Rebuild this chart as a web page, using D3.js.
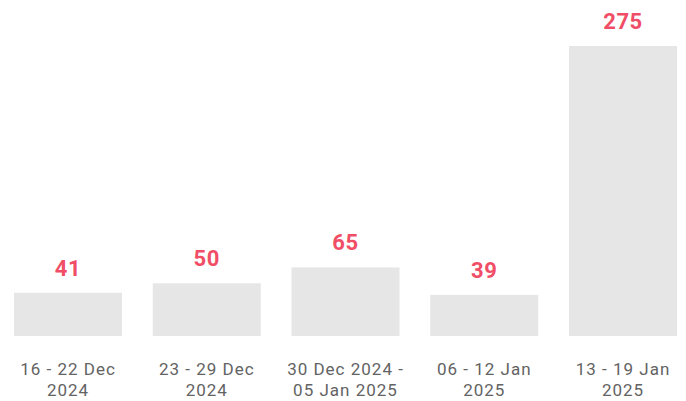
<!DOCTYPE html>
<html>
<head>
<meta charset="utf-8">
<script src="https://cdn.jsdelivr.net/npm/d3@7"></script>
<style>
  body { margin: 0; background: #fff; }
  svg { display: block; }
</style>
</head>
<body>
<div id="chart"></div>
<script>
// weekly counts
const weeks = ["16 - 22 Dec 2024", "23 - 29 Dec 2024", "30 Dec 2024 - 05 Jan 2025", "06 - 12 Jan 2025", "13 - 19 Jan 2025"];
const weekLines = [["16 - 22 Dec", "2024"], ["23 - 29 Dec", "2024"], ["30 Dec 2024 -", "05 Jan 2025"], ["06 - 12 Jan", "2025"], ["13 - 19 Jan", "2025"]];
const counts = [41, 50, 65, 39, 275];

const width = 686, height = 401;
const svg = d3.select("#chart").append("svg")
  .attr("width", width)
  .attr("height", height);

const x = d3.scaleBand()
  .domain(weeks)
  .range([14, 677])
  .paddingInner(0.2216)
  .paddingOuter(0);

const y = d3.scaleLinear()
  .domain([0, 275])
  .range([336, 46]);

const data = weeks.map((w, i) => ({week: w, value: counts[i], lines: weekLines[i]}));

svg.selectAll("rect.bar")
  .data(data)
  .join("rect")
  .attr("class", "bar")
  .attr("x", d => x(d.week))
  .attr("y", d => y(d.value))
  .attr("width", x.bandwidth())
  .attr("height", d => y(0) - y(d.value))
  .attr("fill", "#e6e6e6");

svg.selectAll("text.val")
  .data(data)
  .join("text")
  .attr("class", "val")
  .attr("x", d => x(d.week) + x.bandwidth() / 2)
  .attr("y", d => y(d.value) - 17)
  .attr("text-anchor", "middle")
  .style("font-family", "Roboto, sans-serif")
  .style("font-weight", "bold")
  .style("font-size", "22px")
  .style("letter-spacing", "0.6px")
  .attr("fill", "#f04e67")
  .text(d => d.value);

// x labels, two lines each
const lab = svg.selectAll("text.cat")
  .data(data)
  .join("text")
  .attr("class", "cat")
  .attr("text-anchor", "middle")
  .style("font-family", "Roboto, sans-serif")
  .style("font-size", "17px")
  .style("letter-spacing", "1px")
  .attr("fill", "#636363");

lab.selectAll("tspan")
  .data(d => d.lines.map(l => ({l, cx: x(d.week) + x.bandwidth() / 2})))
  .join("tspan")
  .attr("x", d => d.cx)
  .attr("y", (d, i) => 375 + i * 21)
  .text(d => d.l);
</script>
</body>
</html>
